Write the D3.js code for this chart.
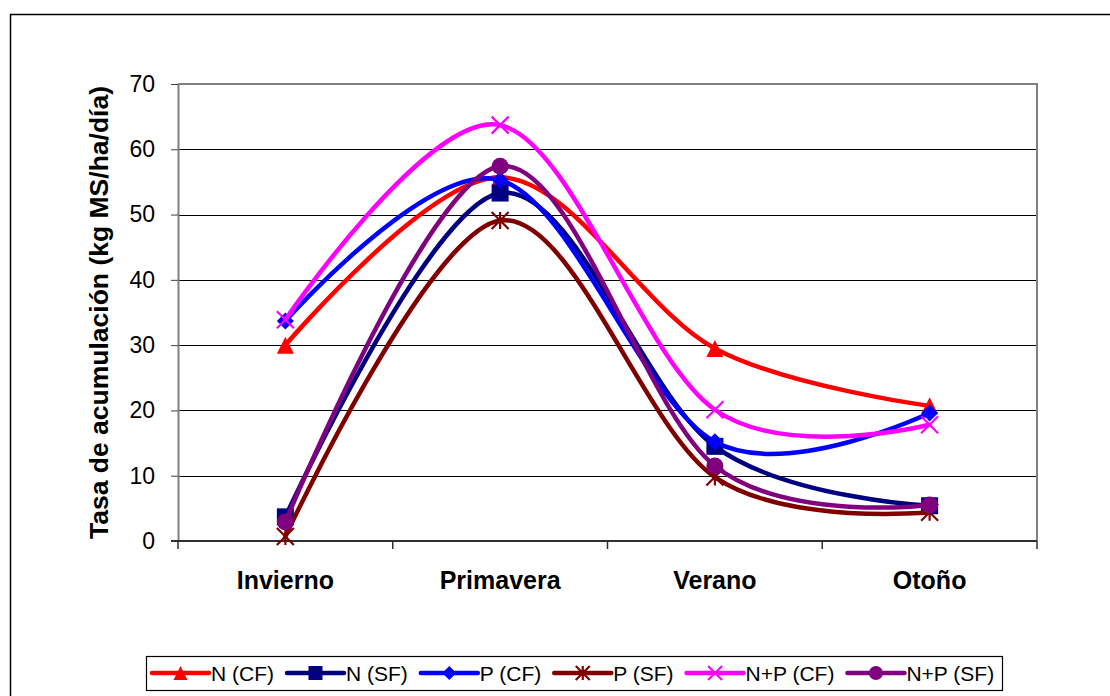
<!DOCTYPE html>
<html>
<head>
<meta charset="utf-8">
<script src="https://cdn.jsdelivr.net/npm/d3@7"></script>
<style>
  body { margin: 0; background: #fff; }
  svg { display: block; font-family: "Liberation Sans", Arial, sans-serif; }
</style>
</head>
<body>
<svg id="chart"></svg>
<script>
// seasons on the x axis
const seasons = ['Invierno', 'Primavera', 'Verano', 'Otoño'];

// series values (kg MS/ha/día)
const nCF = [30.0, 55.7, 29.5, 20.7];
const nSF = [3.7, 53.3, 14.5, 5.4];
const pCF = [33.7, 55.3, 15.2, 19.6];
const pSF = [0.7, 49.1, 9.8, 4.4];
const npCF = [33.9, 63.7, 20.1, 17.8];
const npSF = [2.9, 57.4, 11.5, 5.5];

const seriesNames = ['N (CF)', 'N (SF)', 'P (CF)', 'P (SF)', 'N+P (CF)', 'N+P (SF)'];
const seriesColors = ['#ff0000', '#000080', '#0000ff', '#800000', '#ff00ff', '#800080'];
const seriesMarkers = ['triangle', 'square', 'diamond', 'star', 'cross', 'circle'];
const yTicks = [0, 10, 20, 30, 40, 50, 60, 70];
const yTitle = 'Tasa de acumulación (kg MS/ha/día)';

class LineChart {
    constructor(_config, _data) {
        this.config = {
            parentElement: _config.parentElement,
            containerWidth: _config.containerWidth || 1110,
            containerHeight: _config.containerHeight || 696,
            plot: _config.plot
        }
        this.data = _data;
        this.initVis();
    }

    initVis() {
        let vis = this;
        const p = vis.config.plot;

        vis.svg = d3.select(vis.config.parentElement)
            .attr('width', vis.config.containerWidth)
            .attr('height', vis.config.containerHeight);

        // outer chart frame (runs off the right / bottom edge)
        vis.svg.append('rect')
            .attr('x', 10.5).attr('y', 14.5)
            .attr('width', 1200).attr('height', 800)
            .attr('fill', '#fff')
            .attr('stroke', '#000')
            .attr('stroke-width', 1.5);

        vis.xScale = d3.scalePoint()
            .domain(seasons)
            .range([p.left, p.right])
            .padding(0.5);

        vis.yScale = d3.scaleLinear()
            .domain([0, 70])
            .range([p.bottom, p.top]);

        // gridlines
        vis.svg.append('g')
            .selectAll('line')
            .data(yTicks.filter(d => d > 0 && d < 70))
            .join('line')
            .attr('x1', p.left).attr('x2', p.right)
            .attr('y1', d => Math.round(vis.yScale(d)) + 0.5)
            .attr('y2', d => Math.round(vis.yScale(d)) + 0.5)
            .attr('stroke', '#000')
            .attr('stroke-width', 1);

        // plot area border top / right (gray)
        vis.svg.append('path')
            .attr('d', `M${p.left},${p.top}H${p.right}V${p.bottom}`)
            .attr('fill', 'none')
            .attr('stroke', '#808080')
            .attr('stroke-width', 2);

        // y axis
        vis.yAxis = d3.axisLeft(vis.yScale)
            .tickValues(yTicks)
            .tickSize(7)
            .tickSizeOuter(0)
            .tickPadding(16);
        vis.yAxisG = vis.svg.append('g')
            .attr('transform', `translate(${p.left},0)`)
            .call(vis.yAxis);
        vis.yAxisG.select('.domain').attr('stroke', '#808080').attr('stroke-width', 2);
        vis.yAxisG.selectAll('.tick line').attr('stroke', '#404040');
        vis.yAxisG.selectAll('.tick text')
            .attr('font-size', 23)
            .attr('fill', '#000')
            .attr('font-family', '"Liberation Sans", Arial, sans-serif');

        // x axis: ticks between categories
        const step = vis.xScale.step();
        const boundaries = d3.range(seasons.length + 1).map(i => p.left + i * step);
        vis.svg.append('line')
            .attr('x1', p.left - 7).attr('x2', p.right)
            .attr('y1', p.bottom).attr('y2', p.bottom)
            .attr('stroke', '#303030').attr('stroke-width', 2);
        vis.svg.append('g')
            .selectAll('line')
            .data(boundaries)
            .join('line')
            .attr('x1', d => d).attr('x2', d => d)
            .attr('y1', p.bottom).attr('y2', p.bottom + 8)
            .attr('stroke', '#303030').attr('stroke-width', 1.5);
        vis.svg.append('g')
            .selectAll('text')
            .data(seasons)
            .join('text')
            .attr('x', d => vis.xScale(d))
            .attr('y', p.bottom + 48)
            .attr('text-anchor', 'middle')
            .attr('font-size', 25)
            .attr('font-weight', 'bold')
            .text(d => d);

        // y axis title
        vis.svg.append('text')
            .attr('transform', `translate(108,${(p.top + p.bottom) / 2}) rotate(-90)`)
            .attr('text-anchor', 'middle')
            .attr('font-size', 26.5)
            .attr('font-weight', 'bold')
            .text(yTitle);

        vis.line = d3.line()
            .x((d, i) => vis.xScale(seasons[i]))
            .y(d => vis.yScale(d))
            .curve(d3.curveCardinal.tension(0));

        vis.renderVis();
    }

    marker(g, type, color, s) {
        if (type === 'triangle') {
            g.append('path').attr('d', `M0,${-s}L${s},${s}L${-s},${s}Z`).attr('fill', color);
        } else if (type === 'square') {
            g.append('rect').attr('x', -s).attr('y', -s).attr('width', 2 * s).attr('height', 2 * s).attr('fill', color);
        } else if (type === 'diamond') {
            g.append('path').attr('d', `M0,${-s}L${s},0L0,${s}L${-s},0Z`).attr('fill', color);
        } else if (type === 'circle') {
            g.append('circle').attr('r', s).attr('fill', color);
        } else if (type === 'cross') {
            g.append('path').attr('d', `M${-s},${-s}L${s},${s}M${-s},${s}L${s},${-s}`)
                .attr('stroke', color).attr('stroke-width', 2.2).attr('fill', 'none');
        } else if (type === 'star') {
            g.append('path').attr('d', `M${-s},${-s}L${s},${s}M${-s},${s}L${s},${-s}M0,${-s}V${s}`)
                .attr('stroke', color).attr('stroke-width', 2.2).attr('fill', 'none');
        }
    }

    renderVis() {
        let vis = this;

        vis.data.forEach((values, k) => {
            const g = vis.svg.append('g');
            g.append('path')
                .attr('d', vis.line(values))
                .attr('fill', 'none')
                .attr('stroke', seriesColors[k])
                .attr('stroke-width', 4.5)
                .attr('stroke-linecap', 'round');
            values.forEach((v, i) => {
                const m = g.append('g')
                    .attr('transform', `translate(${vis.xScale(seasons[i])},${vis.yScale(v)})`);
                vis.marker(m, seriesMarkers[k], seriesColors[k], 8.5);
            });
        });

        // legend
        const lg = vis.svg.append('g');
        lg.append('rect')
            .attr('x', 146.5).attr('y', 656.5)
            .attr('width', 856).attr('height', 34)
            .attr('fill', '#fff')
            .attr('stroke', '#000').attr('stroke-width', 1.2);
        let x = 152;
        const ly = 673;
        seriesNames.forEach((name, k) => {
            lg.append('line')
                .attr('x1', x).attr('x2', x + 57)
                .attr('y1', ly).attr('y2', ly)
                .attr('stroke', seriesColors[k])
                .attr('stroke-width', 4.5)
                .attr('stroke-linecap', 'round');
            const m = lg.append('g').attr('transform', `translate(${x + 28.5},${ly})`);
            vis.marker(m, seriesMarkers[k], seriesColors[k], 7);
            const t = lg.append('text')
                .attr('x', x + 59)
                .attr('y', ly + 7.5)
                .attr('font-size', 21)
                .text(name);
            x += 59 + t.node().getComputedTextLength() + 13;
        });
    }
}

let chart = new LineChart({
    parentElement: '#chart',
    plot: { left: 178, right: 1037, top: 84, bottom: 541 }
}, [nCF, nSF, pCF, pSF, npCF, npSF]);
</script>
</body>
</html>
